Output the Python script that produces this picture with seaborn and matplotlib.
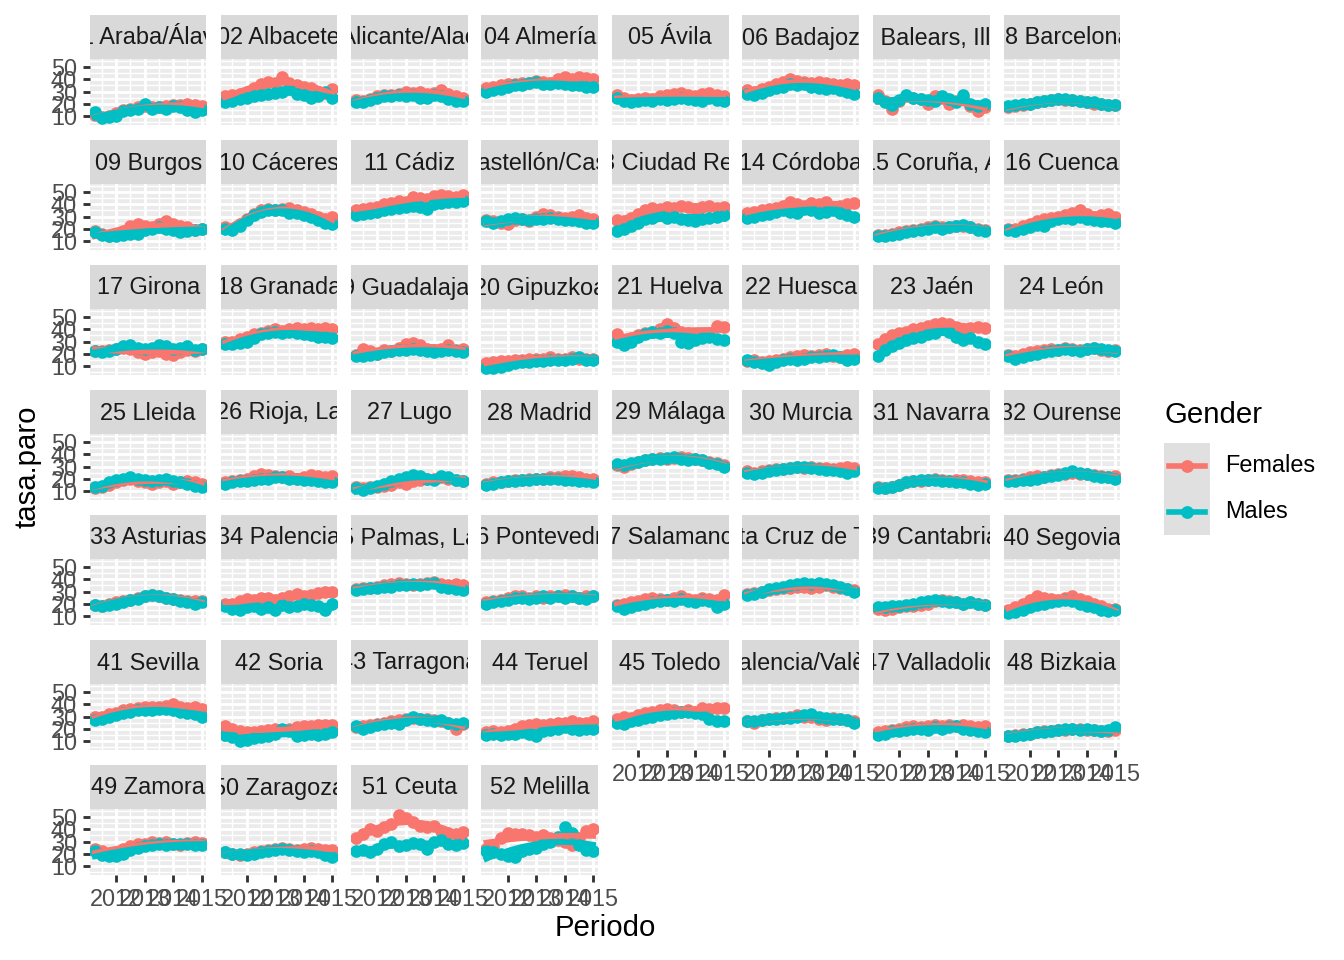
import pandas as pd
import matplotlib
matplotlib.use("Agg")
import matplotlib.pyplot as plt
from matplotlib.patches import Rectangle
from matplotlib.lines import Line2D
import seaborn as sns

# Periodos trimestrales (EPA)
periodos = [2011.25, 2011.5, 2011.75, 2012.0, 2012.25, 2012.5, 2012.75, 2013.0,
            2013.25, 2013.5, 2013.75, 2014.0, 2014.25, 2014.5, 2014.75, 2015.0]

provincias = [
    "01 Araba/Álava", "02 Albacete", "03 Alicante/Alacant", "04 Almería",
    "05 Ávila", "06 Badajoz", "07 Balears, Illes", "08 Barcelona",
    "09 Burgos", "10 Cáceres", "11 Cádiz", "12 Castellón/Castelló",
    "13 Ciudad Real", "14 Córdoba", "15 Coruña, A", "16 Cuenca",
    "17 Girona", "18 Granada", "19 Guadalajara", "20 Gipuzkoa",
    "21 Huelva", "22 Huesca", "23 Jaén", "24 León",
    "25 Lleida", "26 Rioja, La", "27 Lugo", "28 Madrid",
    "29 Málaga", "30 Murcia", "31 Navarra", "32 Ourense",
    "33 Asturias", "34 Palencia", "35 Palmas, Las", "36 Pontevedra",
    "37 Salamanca", "38 Santa Cruz de Tenerife", "39 Cantabria", "40 Segovia",
    "41 Sevilla", "42 Soria", "43 Tarragona", "44 Teruel",
    "45 Toledo", "46 Valencia/València", "47 Valladolid", "48 Bizkaia",
    "49 Zamora", "50 Zaragoza", "51 Ceuta", "52 Melilla",
]

# tasa de paro, mujeres (una fila por provincia)
paro_mujeres = [
    [11, 9, 10, 12, 15, 16, 17, 18, 17, 17, 18, 19, 19, 20, 19, 18],
    [26, 27, 28, 30, 33, 36, 38, 37, 42, 37, 35, 34, 33, 30, 29, 32],
    [23, 22, 24, 26, 27, 27, 28, 30, 29, 30, 28, 29, 31, 28, 26, 25],
    [33, 34, 35, 36, 36, 37, 37, 39, 38, 37, 40, 42, 40, 42, 41, 40],
    [27, 25, 23, 24, 25, 24, 26, 27, 28, 29, 27, 26, 28, 29, 27, 26],
    [31, 30, 32, 34, 36, 38, 40, 39, 38, 37, 38, 37, 36, 35, 36, 35],
    [27, 22, 16, 22, 26, 25, 24, 20, 26, 25, 20, 22, 25, 18, 14, 17],
    [17, 18, 19, 20, 21, 22, 23, 24, 23, 23, 22, 21, 20, 20, 19, 19],
    [18, 16, 14, 15, 18, 22, 24, 22, 21, 24, 26, 24, 22, 21, 19, 20],
    [21, 20, 24, 28, 32, 35, 36, 35, 36, 37, 35, 34, 32, 30, 28, 30],
    [35, 36, 37, 38, 40, 41, 43, 42, 46, 45, 44, 47, 48, 47, 46, 48],
    [27, 26, 25, 24, 27, 28, 26, 30, 32, 31, 30, 29, 30, 31, 29, 28],
    [27, 26, 29, 32, 35, 37, 36, 38, 37, 39, 38, 36, 38, 39, 37, 38],
    [33, 34, 35, 36, 37, 39, 42, 40, 39, 41, 40, 42, 38, 39, 40, 41],
    [15, 15, 16, 17, 18, 19, 20, 21, 22, 21, 21, 22, 22, 21, 20, 19],
    [20, 20, 22, 24, 26, 28, 29, 30, 31, 33, 35, 32, 30, 31, 32, 30],
    [22, 22, 23, 24, 25, 24, 21, 20, 21, 22, 20, 19, 21, 23, 22, 24],
    [30, 30, 32, 34, 36, 37, 39, 40, 39, 40, 41, 40, 41, 40, 41, 40],
    [19, 24, 22, 20, 23, 22, 25, 28, 29, 27, 24, 23, 24, 27, 23, 24],
    [12, 13, 14, 14, 15, 15, 16, 16, 16, 17, 16, 16, 17, 16, 16, 16],
    [36, 30, 33, 35, 37, 38, 40, 44, 41, 38, 37, 36, 35, 37, 43, 42],
    [14, 15, 13, 14, 15, 16, 17, 18, 19, 18, 19, 20, 18, 17, 19, 20],
    [28, 32, 35, 37, 38, 40, 41, 43, 44, 45, 44, 42, 40, 41, 42, 41],
    [19, 18, 20, 21, 22, 23, 24, 23, 25, 24, 23, 24, 25, 23, 22, 23],
    [12, 13, 15, 17, 19, 20, 18, 17, 16, 17, 18, 16, 17, 18, 17, 16],
    [17, 18, 19, 20, 22, 24, 23, 22, 21, 22, 20, 21, 23, 22, 21, 22],
    [13, 12, 13, 13, 14, 15, 17, 16, 18, 19, 20, 20, 21, 20, 19, 18],
    [16, 17, 17, 18, 19, 19, 20, 20, 20, 21, 21, 22, 22, 21, 20, 20],
    [31, 30, 32, 34, 35, 36, 37, 36, 37, 38, 37, 36, 35, 34, 33, 31],
    [26, 25, 26, 27, 28, 28, 29, 30, 29, 30, 29, 29, 28, 29, 30, 29],
    [13, 12, 13, 15, 17, 18, 18, 19, 20, 19, 18, 19, 19, 18, 17, 17],
    [19, 19, 20, 21, 22, 21, 23, 24, 24, 25, 24, 24, 23, 22, 21, 22],
    [19, 18, 20, 21, 22, 23, 25, 26, 27, 26, 25, 24, 23, 22, 22, 22],
    [20, 20, 22, 24, 23, 25, 25, 23, 25, 26, 28, 26, 27, 29, 30, 30],
    [32, 33, 33, 34, 35, 36, 37, 36, 35, 36, 37, 38, 36, 35, 36, 35],
    [21, 22, 23, 25, 26, 26, 25, 26, 25, 26, 26, 27, 26, 25, 26, 26],
    [19, 20, 21, 22, 24, 25, 24, 23, 25, 26, 24, 23, 25, 24, 23, 27],
    [28, 29, 30, 31, 32, 33, 33, 34, 34, 33, 34, 35, 34, 33, 32, 31],
    [16, 15, 16, 17, 18, 18, 19, 20, 22, 23, 22, 21, 20, 21, 20, 19],
    [15, 17, 20, 23, 26, 25, 24, 23, 25, 26, 24, 22, 20, 18, 16, 16],
    [30, 30, 32, 33, 35, 36, 37, 38, 38, 38, 39, 40, 38, 37, 38, 36],
    [22, 20, 18, 17, 17, 18, 19, 20, 19, 20, 21, 22, 22, 23, 23, 23],
    [21, 22, 23, 24, 25, 26, 27, 28, 29, 28, 28, 27, 26, 25, 20, 24],
    [17, 18, 17, 18, 20, 22, 23, 24, 23, 24, 25, 25, 26, 25, 25, 26],
    [28, 30, 29, 31, 33, 34, 35, 36, 35, 34, 35, 34, 37, 36, 37, 37],
    [26, 25, 27, 28, 29, 29, 30, 31, 30, 30, 28, 27, 29, 28, 27, 26],
    [17, 18, 19, 20, 21, 22, 21, 22, 23, 22, 23, 22, 23, 22, 21, 22],
    [14, 15, 16, 16, 17, 18, 18, 19, 19, 20, 20, 19, 19, 18, 18, 19],
    [24, 22, 20, 21, 24, 26, 28, 28, 30, 29, 30, 28, 27, 29, 30, 29],
    [21, 20, 19, 20, 21, 22, 23, 24, 25, 24, 23, 24, 25, 24, 23, 23],
    [33, 36, 40, 39, 42, 44, 52, 49, 46, 43, 42, 43, 39, 37, 36, 38],
    [24, 26, 33, 37, 36, 36, 35, 34, 35, 33, 31, 30, 27, 33, 39, 40],
]

# tasa de paro, hombres
paro_hombres = [
    [13, 8, 9, 10, 14, 15, 16, 20, 16, 17, 16, 18, 17, 15, 13, 15],
    [21, 22, 24, 25, 26, 27, 28, 29, 30, 32, 28, 27, 25, 26, 30, 25],
    [21, 21, 23, 25, 26, 26, 27, 26, 27, 25, 25, 27, 26, 24, 22, 22],
    [30, 31, 32, 34, 35, 35, 37, 38, 36, 36, 37, 36, 35, 35, 34, 34],
    [25, 22, 21, 22, 23, 22, 24, 23, 24, 25, 24, 23, 22, 25, 23, 22],
    [28, 27, 29, 31, 33, 34, 36, 35, 36, 34, 33, 32, 33, 31, 30, 28],
    [25, 21, 19, 23, 27, 25, 24, 23, 22, 26, 24, 21, 27, 20, 18, 20],
    [18, 19, 20, 20, 21, 22, 23, 24, 24, 23, 22, 21, 21, 20, 19, 19],
    [17, 15, 14, 14, 15, 16, 16, 19, 20, 21, 20, 19, 17, 18, 19, 20],
    [20, 19, 22, 27, 31, 34, 35, 35, 35, 33, 33, 31, 30, 27, 25, 24],
    [31, 32, 33, 34, 35, 36, 37, 38, 39, 38, 36, 40, 41, 42, 42, 43],
    [26, 25, 26, 28, 29, 28, 27, 28, 28, 29, 28, 27, 27, 26, 25, 25],
    [18, 20, 22, 25, 28, 29, 31, 29, 30, 28, 27, 26, 28, 29, 30, 31],
    [29, 30, 31, 32, 34, 35, 34, 33, 36, 35, 33, 34, 35, 33, 31, 30],
    [14, 14, 15, 16, 17, 18, 19, 20, 21, 20, 21, 22, 23, 21, 19, 18],
    [19, 18, 20, 21, 23, 22, 26, 28, 29, 28, 30, 28, 27, 26, 26, 25],
    [22, 21, 22, 24, 26, 27, 25, 24, 25, 27, 26, 24, 25, 26, 23, 24],
    [28, 28, 29, 30, 33, 36, 37, 38, 37, 38, 37, 36, 35, 34, 34, 33],
    [18, 18, 19, 20, 21, 22, 23, 23, 24, 23, 22, 21, 22, 23, 22, 21],
    [8, 8, 9, 11, 12, 13, 13, 14, 14, 15, 15, 15, 16, 17, 15, 15],
    [30, 27, 30, 34, 36, 38, 37, 39, 37, 30, 29, 31, 33, 34, 32, 31],
    [15, 13, 12, 11, 13, 15, 16, 15, 16, 17, 17, 18, 19, 17, 15, 16],
    [18, 23, 26, 29, 31, 33, 34, 36, 37, 40, 38, 34, 31, 33, 30, 28],
    [18, 16, 17, 19, 20, 21, 22, 23, 24, 23, 22, 24, 25, 24, 23, 22],
    [13, 14, 17, 19, 20, 21, 20, 19, 18, 19, 20, 18, 17, 16, 14, 13],
    [16, 17, 18, 18, 19, 20, 20, 21, 21, 20, 20, 19, 19, 18, 17, 17],
    [12, 11, 12, 14, 16, 18, 20, 21, 23, 22, 20, 19, 22, 21, 19, 18],
    [15, 16, 17, 18, 18, 19, 19, 20, 20, 20, 20, 19, 19, 18, 18, 17],
    [32, 31, 33, 34, 35, 36, 36, 37, 38, 36, 35, 36, 35, 33, 32, 30],
    [25, 24, 25, 26, 27, 28, 29, 30, 30, 29, 28, 27, 27, 26, 25, 26],
    [12, 12, 13, 15, 17, 18, 19, 19, 19, 18, 18, 17, 17, 16, 15, 16],
    [18, 18, 19, 19, 20, 21, 22, 23, 25, 26, 25, 24, 22, 21, 21, 20],
    [19, 18, 19, 20, 21, 23, 24, 26, 27, 26, 25, 24, 22, 21, 20, 21],
    [18, 16, 15, 17, 18, 16, 17, 15, 19, 17, 18, 20, 19, 18, 15, 20],
    [31, 32, 33, 33, 34, 34, 35, 35, 36, 35, 36, 37, 34, 33, 32, 31],
    [20, 21, 22, 23, 25, 25, 24, 25, 26, 25, 26, 25, 26, 25, 24, 26],
    [18, 16, 17, 19, 20, 21, 22, 23, 22, 24, 22, 21, 23, 22, 17, 20],
    [27, 28, 30, 32, 33, 34, 35, 36, 37, 36, 37, 36, 35, 34, 32, 30],
    [17, 17, 18, 18, 19, 20, 21, 22, 23, 22, 21, 21, 20, 21, 20, 19],
    [12, 13, 15, 17, 19, 20, 21, 22, 23, 22, 20, 18, 17, 15, 14, 15],
    [27, 28, 30, 31, 33, 34, 35, 35, 35, 36, 36, 35, 34, 33, 32, 30],
    [15, 13, 10, 11, 12, 13, 14, 16, 20, 18, 14, 15, 16, 15, 16, 17],
    [22, 20, 21, 23, 24, 25, 24, 27, 30, 28, 27, 26, 27, 25, 24, 25],
    [15, 16, 15, 16, 16, 17, 16, 14, 18, 19, 20, 21, 20, 19, 20, 20],
    [25, 24, 26, 27, 29, 30, 31, 32, 33, 34, 34, 33, 32, 28, 26, 26],
    [26, 26, 27, 28, 28, 29, 29, 30, 31, 32, 30, 29, 28, 28, 27, 25],
    [15, 16, 18, 18, 19, 20, 20, 19, 21, 20, 21, 22, 20, 19, 18, 17],
    [14, 14, 15, 16, 17, 17, 18, 19, 20, 20, 19, 20, 19, 18, 19, 21],
    [22, 19, 18, 18, 20, 23, 25, 26, 27, 28, 27, 28, 28, 28, 27, 27],
    [21, 20, 20, 19, 20, 21, 22, 23, 24, 23, 22, 21, 22, 21, 19, 17],
    [22, 23, 21, 24, 28, 30, 26, 27, 29, 28, 24, 30, 31, 28, 27, 29],
    [22, 21, 20, 18, 17, 22, 24, 25, 28, 30, 34, 42, 37, 27, 23, 22],
]

generos = ["Females", "Males"]
colores = {"Females": "#F8766D", "Males": "#00BFC4"}

filas = []
for i, prov in enumerate(provincias):
    for j, per in enumerate(periodos):
        filas.append((prov, per, "Females", paro_mujeres[i][j]))
        filas.append((prov, per, "Males", paro_hombres[i][j]))
df = pd.DataFrame(filas, columns=["Provincia", "Periodo", "Gender", "tasa.paro"])

plt.rcParams["font.family"] = ["Liberation Sans", "DejaVu Sans"]

# escala de ggplot (11 pt base a 96 ppp sobre 144)
k = 4 / 3
base = 11 * k
chico = 8.8 * k

g = sns.FacetGrid(df, col="Provincia", col_order=provincias, col_wrap=8,
                  hue="Gender", hue_order=generos, palette=colores,
                  sharex=True, sharey=True, height=1, aspect=1, despine=False)
g.map(sns.scatterplot, "Periodo", "tasa.paro", s=40, linewidth=0, zorder=3)
g.map(sns.regplot, "Periodo", "tasa.paro", scatter=False, order=2, ci=None,
      truncate=True, line_kws={"linewidth": 2.8, "zorder": 4})

fig = g.figure
W, H = 1344, 960
fig.set_size_inches(W / 144, H / 144)

ncol = 8
n = len(provincias)
for i, ax in enumerate(g.axes.flat):
    r, c = divmod(i, ncol)
    x0 = 90 + 130.5 * c
    y0 = 59 + 125 * r
    ax.set_position([x0 / W, 1 - (y0 + 66) / H, 116.5 / W, 66 / H])
    ax.set_title("")
    ax.set_xlabel("")
    ax.set_ylabel("")
    ax.set_facecolor("#EBEBEB")
    for s in ax.spines.values():
        s.set_visible(False)
    ax.set_xlim(2011.08, 2015.17)
    ax.set_ylim(2.5, 56.7)
    ax.set_xticks([2012, 2013, 2014, 2015])
    ax.set_xticks([2011.5, 2012.5, 2013.5, 2014.5], minor=True)
    ax.set_yticks([10, 20, 30, 40, 50])
    ax.set_yticks([5, 15, 25, 35, 45, 55], minor=True)
    ax.grid(which="major", color="white", linewidth=1.07 * k)
    ax.grid(which="minor", color="white", linewidth=0.53 * k)
    ax.set_axisbelow(True)
    ax.tick_params(which="major", direction="out", length=2.75 * k, width=1.07 * k,
                   color="#333333", labelcolor="#4D4D4D", labelsize=chico,
                   pad=2.2 * k)
    ax.tick_params(which="minor", length=0)
    abajo = i + ncol >= n
    ax.tick_params(axis="x", labelbottom=abajo, length=2.75 * k if abajo else 0)
    izq = c == 0
    ax.tick_params(axis="y", labelleft=izq, length=2.75 * k if izq else 0)

    # tira gris con el nombre de la provincia (recortado como en ggplot)
    franja = Rectangle((0, 1), 1, 44 / 66, transform=ax.transAxes,
                       facecolor="#D9D9D9", edgecolor="none", clip_on=False)
    ax.add_patch(franja)
    t = ax.text(0.5, 1 + 21 / 66, provincias[i], transform=ax.transAxes,
                ha="center", va="center", fontsize=chico, color="#1A1A1A",
                clip_on=True)
    t.set_clip_path(franja)

fig.text(28 / W, 1 - 467 / H, "tasa.paro", rotation=90, ha="center",
         va="center", fontsize=base)
fig.text(605 / W, 1 - 928 / H, "Periodo", ha="center", va="center", fontsize=base)

# leyenda
fig.text(1165 / W, 1 - 415 / H, "Gender", ha="left", va="center", fontsize=base)
fig.add_artist(Rectangle((1164 / W, 1 - 535 / H), 46 / W, 92 / H,
                         transform=fig.transFigure, facecolor="#E0E0E0",
                         edgecolor="none"))
for m, gen in enumerate(generos):
    ym = 1 - (466 + 46 * m) / H
    fig.add_artist(Line2D([1169 / W, 1187 / W, 1205 / W], [ym, ym, ym],
                          transform=fig.transFigure, color=colores[gen],
                          linewidth=2.8, marker="o", markersize=6.4,
                          markevery=[1], markeredgewidth=0))
    fig.text(1225 / W, ym, gen, ha="left", va="center", fontsize=chico)

fig.savefig("out.png", dpi=144)
